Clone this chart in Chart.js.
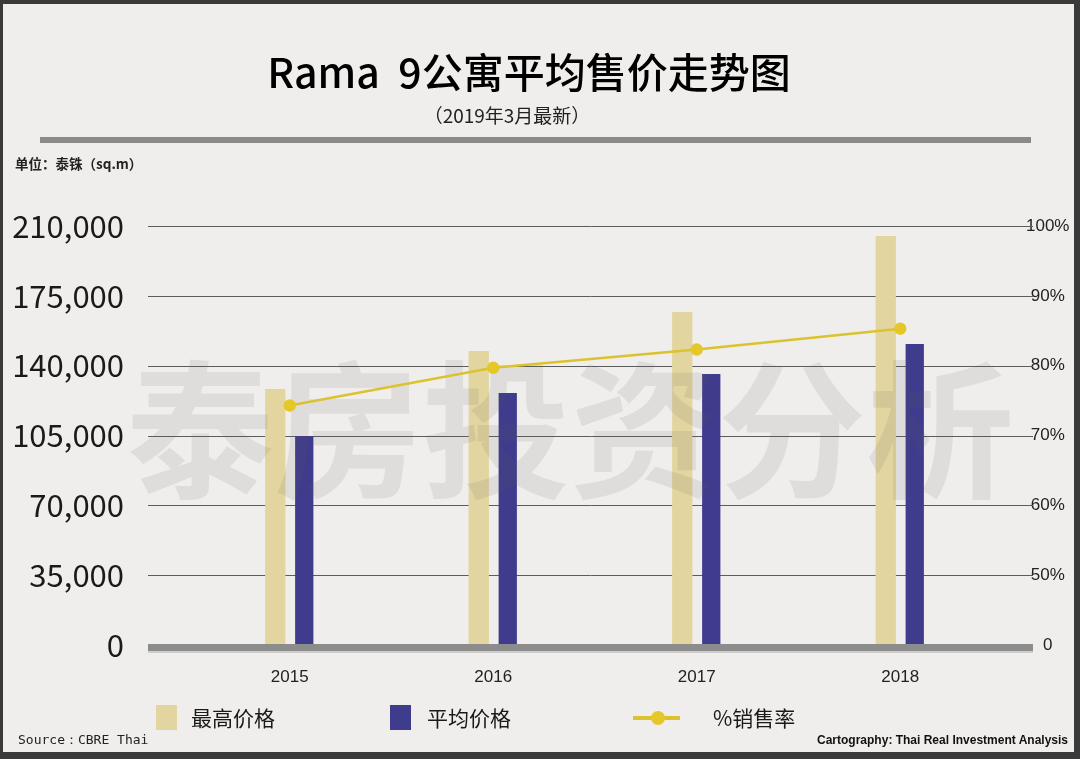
<!DOCTYPE html>
<html>
<head>
<meta charset="utf-8">
<script src="https://cdn.jsdelivr.net/npm/chart.js@4/dist/chart.umd.min.js"></script>
<style>
  body { margin: 0; background: #3a3a3a; width: 1080px; height: 759px; overflow: hidden; position: relative; font-family: "Noto Sans CJK SC", sans-serif; }
  #paper { position: absolute; left: 3px; top: 4px; width: 1071px; height: 748px; background: #efeeec; }
  #chart { position: absolute; left: 0; top: 0; }
  .txt { position: absolute; color: #111; white-space: nowrap; line-height: 1; }
  #title { left: 529px; top: 50px; font-size: 41px; font-weight: 500; transform: translateX(-50%); color: #000; }
  #subtitle { left: 507px; top: 105px; font-size: 19px; transform: translateX(-50%); color: #222; }
  #rule { position: absolute; left: 40px; top: 137px; width: 991px; height: 6px; background: #8a8a8a; }
  #unit { left: 15px; top: 157px; font-size: 13.5px; font-weight: 600; color: #222; }
  .box { position: absolute; top: 705px; width: 21px; height: 25px; }
  .leg { top: 707px; font-size: 21px; color: #1a1a1a; }
  #src { left: 18px; top: 733px; font-size: 13px; font-family: "DejaVu Sans Mono", monospace; color: #222; }
  #carto { right: 12px; top: 734px; font-size: 12px; font-weight: bold; font-family: "Liberation Sans Narrow", "Liberation Sans", sans-serif; color: #111; }
</style>
</head>
<body>
<div id="paper"></div>
<canvas id="chart" width="1080" height="759"></canvas>
<div class="txt" id="title">Rama&nbsp;&nbsp;9公寓平均售价走势图</div>
<div class="txt" id="subtitle">（2019年3月最新）</div>
<div id="rule"></div>
<div class="txt" id="unit">单位：泰铢（sq.m）</div>

<div class="box" style="left:156px;background:#e3d5a0"></div>
<div class="txt leg" style="left:191px">最高价格</div>
<div class="box" style="left:390px;background:#3f3b8d"></div>
<div class="txt leg" style="left:427px">平均价格</div>
<div style="position:absolute;left:633px;top:716px;width:47px;height:4px;background:#dcc22e"></div>
<div style="position:absolute;left:651px;top:711px;width:14px;height:14px;border-radius:50%;background:#e5c72a"></div>
<div class="txt leg" style="left:713px">%销售率</div>

<div class="txt" id="src">Source：CBRE Thai</div>
<div class="txt" id="carto">Cartography: Thai Real Investment Analysis</div>

<script>
const years = ['2015', '2016', '2017', '2018'];
const maxPrice = [128300, 147400, 166900, 205000];
const avgPrice = [104800, 126300, 135800, 150900];
const salesRate = [74.3, 79.7, 82.3, 85.3];

const leftTickLabels = ['0', '35,000', '70,000', '105,000', '140,000', '175,000', '210,000'];
const rightTickLabels = ['0', '50%', '60%', '70%', '80%', '90%', '100%'];
const watermark = '泰房投资分析';

// horizontal rules reach past the plot area, like in the original
const gridPlugin = {
    id: 'gridLines',
    beforeDatasetsDraw(chart) {
        const ctx = chart.ctx;
        const y = chart.scales.y;
        ctx.save();
        ctx.strokeStyle = '#5c5c5c';
        ctx.lineWidth = 1;
        y.ticks.forEach(t => {
            if (t.value === 0) return;
            const py = Math.round(y.getPixelForValue(t.value)) + 0.5;
            ctx.beginPath();
            ctx.moveTo(148, py);
            ctx.lineTo(1033, py);
            ctx.stroke();
        });
        ctx.restore();
    },
    beforeDatasetDraw(chart, args) {
        if (args.index !== 2) return;
        const ctx = chart.ctx;
        ctx.save();
        ctx.font = 'bold 148px "Noto Sans CJK SC"';
        ctx.fillStyle = 'rgba(100, 100, 100, 0.12)';
        ctx.textAlign = 'center';
        ctx.textBaseline = 'middle';
        ctx.fillText(watermark, 570, 430);
        ctx.restore();
    },
    afterDatasetsDraw(chart) {
        const ctx = chart.ctx;
        const y0 = chart.scales.y.getPixelForValue(0);
        ctx.save();
        ctx.fillStyle = '#8c8c8c';
        ctx.fillRect(148, y0 - 1, 885, 7);
        ctx.fillStyle = 'rgba(140,140,140,0.35)';
        ctx.fillRect(148, y0 + 6, 885, 2);
        ctx.restore();
    }
};

new Chart(document.getElementById('chart'), {
    type: 'bar',
    data: {
        labels: years,
        datasets: [
            {
                label: '最高价格',
                data: maxPrice,
                backgroundColor: '#e3d5a0',
                categoryPercentage: 0.285,
                barPercentage: 0.7,
                order: 1,
                yAxisID: 'y'
            },
            {
                label: '平均价格',
                data: avgPrice,
                backgroundColor: '#3f3b8d',
                categoryPercentage: 0.285,
                barPercentage: 0.63,
                order: 1,
                yAxisID: 'y'
            },
            {
                type: 'line',
                label: '%销售率',
                data: salesRate,
                borderColor: '#dcc22e',
                borderWidth: 2.5,
                pointBackgroundColor: '#e5c72a',
                pointBorderColor: '#e5c72a',
                pointRadius: 5,
                tension: 0,
                order: 0,
                yAxisID: 'y1'
            }
        ]
    },
    options: {
        responsive: false,
        animation: false,
        layout: { padding: { top: 226, bottom: 58, left: 0, right: 0 } },
        plugins: { legend: { display: false }, tooltip: { enabled: false } },
        scales: {
            x: {
                grid: { display: false, drawTicks: false },
                border: { display: false },
                ticks: { color: '#222', font: { size: 17, family: 'Liberation Sans' }, padding: 22 },
                afterFit(scale) { scale.height = 56; }
            },
            y: {
                position: 'left',
                min: 0,
                max: 210000,
                grid: { display: false, drawTicks: false },
                border: { display: false },
                ticks: {
                    stepSize: 35000,
                    color: '#1a1a1a',
                    padding: 64,
                    font: { size: 31, family: 'Noto Sans CJK SC' },
                    callback: (v, i) => leftTickLabels[i]
                },
                afterFit(scale) { scale.width = 188; }
            },
            y1: {
                position: 'right',
                min: 40,
                max: 100,
                grid: { display: false, drawTicks: false },
                border: { display: false },
                ticks: {
                    stepSize: 10,
                    color: '#222',
                    padding: 24,
                    crossAlign: 'center',
                    font: { size: 17, family: 'Liberation Sans' },
                    callback: (v, i) => rightTickLabels[i]
                },
                afterFit(scale) { scale.width = 78; }
            }
        }
    },
    plugins: [gridPlugin]
});
</script>
</body>
</html>
